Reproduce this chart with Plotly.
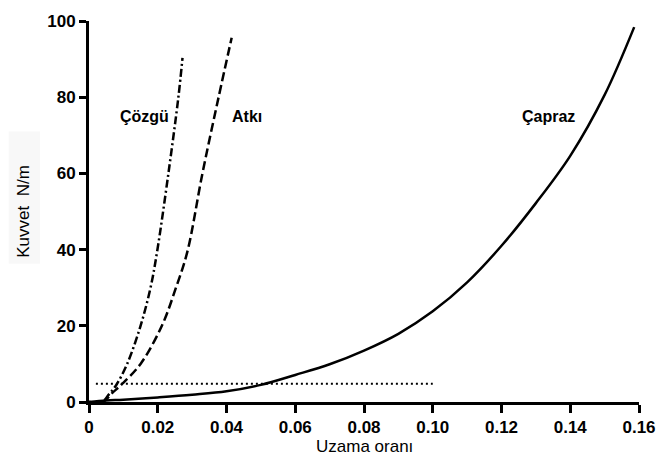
import plotly.graph_objects as go

# --- data ---
cozgu_x = [0.0, 0.0037, 0.0058, 0.0079, 0.0111, 0.015, 0.0179, 0.0198, 0.0231, 0.026, 0.0272]
cozgu_y = [0.0, 0.0, 2.0, 4.4, 10.0, 20.0, 30.0, 39.4, 60.0, 80.0, 90.3]

atki_x = [0.0, 0.004, 0.0068, 0.0097, 0.0150, 0.0212, 0.0253, 0.0286, 0.0330, 0.0377, 0.0415]
atki_y = [0.0, 0.0, 2.4, 4.8, 10.0, 20.0, 30.0, 39.4, 60.0, 80.0, 95.6]

capraz_x = [0.0, 0.005, 0.01, 0.02, 0.03, 0.04, 0.05, 0.06, 0.07, 0.08, 0.09,
            0.10, 0.11, 0.12, 0.13, 0.14, 0.15, 0.1586]
capraz_y = [0.0, 0.4, 0.6, 1.2, 1.9, 2.8, 4.5, 7.1, 9.9, 13.5, 17.9,
            23.8, 31.4, 41.0, 52.2, 64.6, 80.6, 98.4]

limit_x = [0.002, 0.10]
limit_y = [4.8, 4.8]

x_ticks = [0, 0.02, 0.04, 0.06, 0.08, 0.10, 0.12, 0.14, 0.16]
x_ticktext = ["0", "0.02", "0.04", "0.06", "0.08", "0.10", "0.12", "0.14", "0.16"]
y_ticks = [0, 20, 40, 60, 80, 100]

labels = ["Çözgü", "Atkı", "Çapraz"]
label_x = [0.016, 0.0459, 0.1337]
label_y = [75, 75, 75]

FONT = "Liberation Sans, Arial, sans-serif"

fig = go.Figure()
fig.add_trace(go.Scatter(x=limit_x, y=limit_y, mode="lines",
                         line=dict(color="black", width=2, dash="2px,3px")))
fig.add_trace(go.Scatter(x=capraz_x, y=capraz_y, mode="lines",
                         line=dict(color="black", width=2.5, shape="spline", smoothing=1.0)))
fig.add_trace(go.Scatter(x=atki_x, y=atki_y, mode="lines",
                         line=dict(color="black", width=2.5, dash="9px,4px", shape="spline", smoothing=1.0)))
fig.add_trace(go.Scatter(x=cozgu_x, y=cozgu_y, mode="lines",
                         line=dict(color="black", width=2.5, dash="8px,3px,2px,3px", shape="spline", smoothing=1.0)))

for t, x, y in zip(labels, label_x, label_y):
    fig.add_annotation(x=x, y=y, text=t, showarrow=False, xanchor="center", yanchor="middle",
                       font=dict(family=FONT, size=16, color="black", weight="bold"))

# axis titles
fig.add_annotation(xref="paper", yref="paper", x=0.5, y=-0.116, text="Uzama oranı",
                   showarrow=False, xanchor="center", yanchor="middle",
                   font=dict(family=FONT, size=17, color="black"))
fig.add_annotation(xref="paper", yref="paper", x=-0.1196, y=0.5, text="Kuvvet  N/m",
                   textangle=-90, showarrow=False, xanchor="center", yanchor="middle",
                   font=dict(family=FONT, size=17, color="black"))

# faint scanned box behind the y title
fig.add_shape(type="rect", xref="paper", yref="paper", x0=-0.146, x1=-0.089, y0=0.363, y1=0.71,
              line=dict(width=0), fillcolor="#f8f8f8", layer="below")

fig.update_layout(
    width=668, height=469,
    margin=dict(l=89, r=19, t=16, b=67),
    paper_bgcolor="white", plot_bgcolor="white",
    showlegend=False,
    font=dict(family=FONT, color="black"),
)
fig.update_xaxes(range=[0, 0.16], tickvals=x_ticks, ticktext=x_ticktext,
                 showgrid=False, zeroline=False, showline=True, linecolor="black", linewidth=3,
                 ticks="outside", ticklen=8, tickwidth=2.5, tickcolor="black",
                 tickfont=dict(family=FONT, size=17, color="black", weight="bold"))
fig.update_yaxes(range=[0, 100], tickvals=y_ticks,
                 showgrid=False, zeroline=False, showline=True, linecolor="black", linewidth=3,
                 ticks="outside", ticklen=7, tickwidth=2.5, tickcolor="black",
                 tickfont=dict(family=FONT, size=17, color="black", weight="bold"))

fig.write_html("out.html")
